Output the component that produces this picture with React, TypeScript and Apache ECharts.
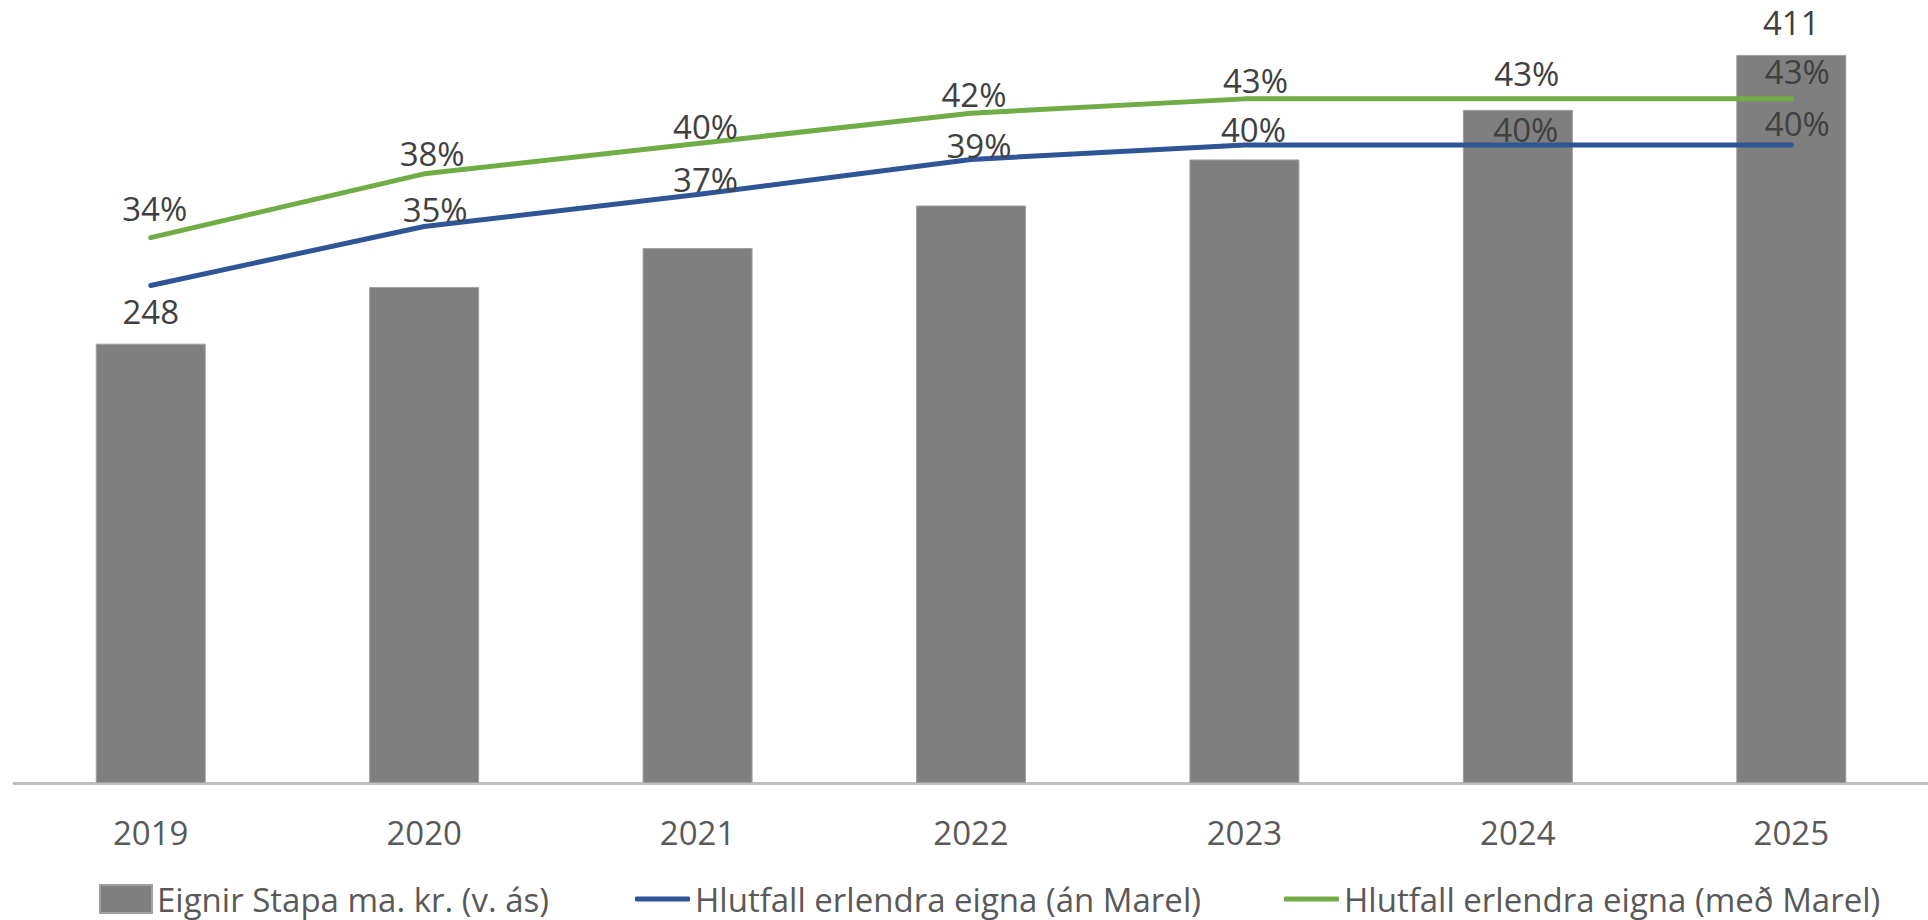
import React, { useEffect, useRef } from "react";
import * as echarts from "echarts";

const years = ["2019", "2020", "2021", "2022", "2023", "2024", "2025"];
const assets = [248, 280, 302, 326, 352, 380, 411];
const shareExMarel = [31.2, 34.9, 36.9, 39.1, 40.0, 40.0, 40.0];
const shareInclMarel = [34.2, 38.2, 40.1, 42.0, 42.9, 42.9, 42.9];

const nameBar = "Eignir Stapa ma. kr. (v. ás)";
const nameBlue = "Hlutfall erlendra eigna (án Marel)";
const nameGreen = "Hlutfall erlendra eigna (með Marel)";

// axis ranges (the plot's top edge sits at the top of the picture)
const assetsMax = 442;
const shareMax = 49.1;

// which points carry a data label (as in the reference)
const barLabelShown = [true, false, false, false, false, false, true];
const blueLabelShown = [false, true, true, true, true, true, true];
const greenLabelShown = [true, true, true, true, true, true, true];
// label centre offsets relative to the point [dx, dy]
const blueLabelPos = [[0, 0], [11, -16], [8, -14.5], [8, -13], [9, -15], [8, -15], [6, -21]];
const greenLabelPos = [[4, -28], [8, -19.5], [8, -16.5], [3, -18], [11, -17], [9, -24], [6, -26]];

const FONT = "Open Sans";
const FS = 33;
const LH = 34;

export default function App() {
  const ref = useRef<HTMLDivElement>(null);
  useEffect(() => {
    if (!ref.current) return;
    const chart = echarts.init(ref.current, null, { renderer: "svg" });
    const lineLabel = (shown: boolean[], pos: number[][]) => (v: number, i: number) => ({
      value: v,
      label: {
        show: shown[i],
        offset: [pos[i][0], pos[i][1] + LH / 2],
      },
    });
    const legendText = { fontFamily: FONT, fontSize: FS, color: "#595959", lineHeight: 36 };
    chart.setOption({
      animation: false,
      textStyle: { fontFamily: FONT },
      grid: { left: 14, right: -13, top: 0, bottom: 137, containLabel: false },
      legend: [
        {
          left: 94, top: 876, itemWidth: 52, itemHeight: 28, icon: "rect",
          data: [nameBar], textStyle: legendText,
        },
        {
          left: 630, top: 876, itemWidth: 55, itemHeight: 5, icon: "roundRect",
          data: [nameBlue], textStyle: legendText,
        },
        {
          left: 1279, top: 876, itemWidth: 55, itemHeight: 5, icon: "roundRect",
          data: [nameGreen], textStyle: legendText,
        },
      ],
      xAxis: {
        type: "category",
        data: years,
        axisLine: { lineStyle: { color: "#bfbfbf", width: 3 } },
        axisTick: { show: false },
        axisLabel: { fontFamily: FONT, fontSize: FS, color: "#595959", margin: 29, lineHeight: 40 },
      },
      yAxis: [
        { type: "value", min: 0, max: assetsMax, show: false, splitLine: { show: false } },
        { type: "value", min: 0, max: shareMax, show: false, splitLine: { show: false } },
      ],
      series: [
        {
          name: nameBar,
          type: "bar",
          yAxisIndex: 0,
          barWidth: 110,
          itemStyle: { color: "#7f7f7f", borderColor: "#a0a0a0", borderWidth: 1 },
          data: assets.map((v, i) => ({ value: v, label: { show: barLabelShown[i] } })),
          label: {
            position: "top", distance: 19, fontFamily: FONT, fontSize: FS, color: "#404040", lineHeight: 26,
          },
          z: 1,
        },
        {
          name: nameBlue,
          type: "line",
          yAxisIndex: 1,
          symbol: "circle",
          symbolSize: 2,
          itemStyle: { color: "#2f5597" },
          lineStyle: { color: "#2f5597", width: 5, cap: "round", join: "round" },
          data: shareExMarel.map(lineLabel(blueLabelShown, blueLabelPos)),
          label: {
            position: "top", distance: 0, fontFamily: FONT, fontSize: FS, color: "#404040", lineHeight: LH,
            formatter: (p: any) => Math.round(p.value) + "%",
          },
          z: 3,
        },
        {
          name: nameGreen,
          type: "line",
          yAxisIndex: 1,
          symbol: "circle",
          symbolSize: 2,
          itemStyle: { color: "#70ad47" },
          lineStyle: { color: "#70ad47", width: 5, cap: "round", join: "round" },
          data: shareInclMarel.map(lineLabel(greenLabelShown, greenLabelPos)),
          label: {
            position: "top", distance: 0, fontFamily: FONT, fontSize: FS, color: "#404040", lineHeight: LH,
            formatter: (p: any) => Math.round(p.value) + "%",
          },
          z: 3,
        },
      ],
    });
    return () => chart.dispose();
  }, []);
  return (
    <div
      ref={ref}
      style={{ position: "absolute", left: 0, top: 0, width: 1928, height: 920, background: "#fff" }}
    />
  );
}
